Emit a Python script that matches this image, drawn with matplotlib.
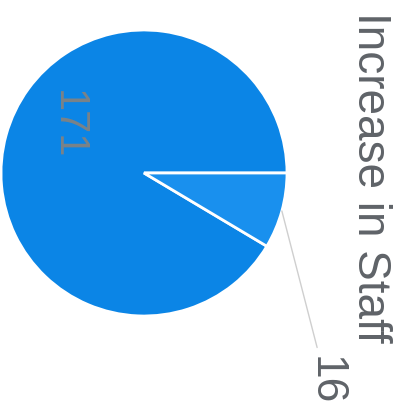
import numpy as np
import matplotlib
matplotlib.use("Agg")
import matplotlib.pyplot as plt

# -----------------------------
# Data
# -----------------------------
TITLE = "Increase in Staff"
values = [171, 16]
labels = ["171", "16"]
colors = ["#0b85e6", "#1990ee"]

W, H, DPI = 403, 411, 100
FONT = ["Liberation Sans", "DejaVu Sans"]

fig = plt.figure(figsize=(W / DPI, H / DPI), dpi=DPI)
fig.patch.set_facecolor("white")

# pie centre ~ (144, 173) px from top-left, radius ~ 143 px
cx, cy, r = 144, 173, 143
ax = fig.add_axes([(cx - r) / W, (H - cy - r) / H, 2 * r / W, 2 * r / H])

wedges, _ = ax.pie(values, colors=colors, startangle=0, counterclock=True,
                   radius=1, wedgeprops=dict(edgecolor="white", linewidth=2))
ax.set_xlim(-1, 1)
ax.set_ylim(-1, 1)
ax.axis("off")

# label inside the big slice
ax.text(-0.53, 0.34, labels[0], rotation=-90, ha="center", va="center",
        fontsize=30, color="#7a8288", family=FONT, fontweight="light")

# small slice label with leader line
w = wedges[1]
mid = np.deg2rad((w.theta1 + w.theta2) / 2)
ax.annotate(labels[1], xy=(np.cos(mid), np.sin(mid)), xytext=(1.27, -1.45),
            rotation=-90, ha="center", va="center", fontsize=32,
            color="#5f6368", family=FONT, annotation_clip=False,
            arrowprops=dict(arrowstyle="-", color="#cfcfcf", lw=1,
                            shrinkA=4, shrinkB=0))

# title, rotated like the scan
fig.text(370 / W, 1 - 177 / H, TITLE, rotation=-90, ha="center", va="center",
         fontsize=33, color="#5f6368", family=FONT)

fig.savefig("out.png", dpi=DPI)
